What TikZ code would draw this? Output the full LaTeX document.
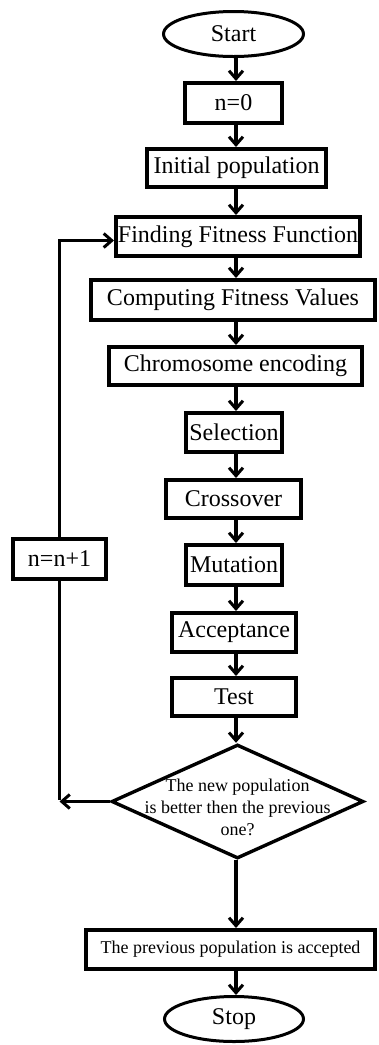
\documentclass[tikz,border=0pt]{standalone}
\usepackage{fontspec}
\setmainfont{Liberation Serif}
\usetikzlibrary{shapes.geometric,arrows.meta}
\begin{document}
\begin{tikzpicture}[x=1pt,y=-1pt,
  box/.style={draw,line width=4pt,inner sep=0pt,font=\fontsize{24}{28}\selectfont},
  term/.style={draw,ellipse,line width=3pt,inner sep=0pt,font=\fontsize{24}{28}\selectfont},
  dia/.style={draw,diamond,line width=3.4pt,inner sep=0pt},
  conn/.style={line width=3.6pt},
  arr/.style={line width=3.6pt,-{Straight Barb[length=8pt,width=14pt,line width=3pt]}}]
\useasboundingbox (0,0) rectangle (378,1045);
\coordinate (spine) at (236,0);
\node[term,minimum width=140pt,minimum height=45pt] (start) at (233.5,34) {Start};
\node[box,minimum width=97pt,minimum height=40pt] (n0) at (233.5,103) {n=0};
\node[box,minimum width=179pt,minimum height=38pt] (init) at (236.5,168) {Initial population};
\node[box,minimum width=244pt,minimum height=39pt] (find) at (238,236.5) {Finding Fitness Function};
\node[box,minimum width=284pt,minimum height=40pt] (comp) at (233,300) {Computing Fitness Values};
\node[box,minimum width=253pt,minimum height=38pt] (chrom) at (235.5,366) {Chromosome encoding};
\node[box,minimum width=96pt,minimum height=39pt] (sel) at (234,432.5) {Selection};
\node[box,minimum width=135pt,minimum height=38pt] (cross) at (233.5,499) {Crossover};
\node[box,minimum width=96pt,minimum height=40pt] (mut) at (234,565) {Mutation};
\node[box,minimum width=124pt,minimum height=39pt] (acc) at (234,632.5) {Acceptance};
\node[box,minimum width=124pt,minimum height=38pt] (test) at (234,697) {Test};
\node[dia,minimum width=252pt,minimum height=114pt,
  label={[font=\fontsize{18}{22}\selectfont,align=center,yshift=-6pt]center:The new population\\is better then the previous\\one?}] (dia) at (237.5,801.5) {};
\node[box,minimum width=289pt,minimum height=39pt,font=\fontsize{18}{22}\selectfont] (prev) at (230.5,949.5) {The previous population is accepted};
\node[term,minimum width=139pt,minimum height=45pt] (stop) at (234,1019) {Stop};
\node[box,minimum width=93pt,minimum height=40pt] (nn1) at (59.5,559) {n=n+1};
\coordinate (corner) at (dia.west -| nn1);
\draw[arr] (start.south -| spine) -- (n0.north -| spine);
\draw[arr] (n0.south -| spine) -- (init.north -| spine);
\draw[arr] (init.south -| spine) -- (find.north -| spine);
\draw[arr] (find.south -| spine) -- (comp.north -| spine);
\draw[arr] (comp.south -| spine) -- (chrom.north -| spine);
\draw[arr] (chrom.south -| spine) -- (sel.north -| spine);
\draw[arr] (sel.south -| spine) -- (cross.north -| spine);
\draw[arr] (cross.south -| spine) -- (mut.north -| spine);
\draw[arr] (mut.south -| spine) -- (acc.north -| spine);
\draw[arr] (acc.south -| spine) -- (test.north -| spine);
\draw[arr] (test.south -| spine) -- (dia.north -| spine);
\draw[arr] (dia.south -| spine) -- (prev.north -| spine);
\draw[arr] (prev.south -| spine) -- (stop.north -| spine);
\draw[arr] (dia.west) -- (corner);
\draw[conn] ([yshift=1.8pt]corner) -- (nn1.south);
\draw[arr] (nn1.north) |- ([yshift=-4pt]find.west);
\end{tikzpicture}
\end{document}
